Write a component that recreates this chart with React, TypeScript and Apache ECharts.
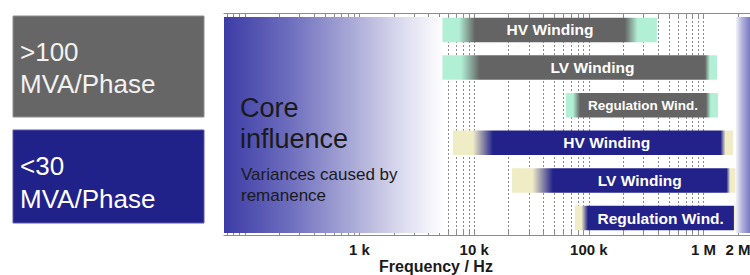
import React, { useEffect, useRef } from 'react';
import * as echarts from 'echarts';

// ---------- data ----------
const X_MIN = 65.9;
const X_MAX = 2540000;

const WINDINGS = ['HV Winding', 'LV Winding', 'Regulation Wind.', 'HV Winding', 'LV Winding', 'Regulation Wind.'];
const CLASS_OF_BAR = [0, 0, 0, 1, 1, 1];
const CLASS_LINE1 = ['>100', '<30'];
const CLASS_LINE2 = ['MVA/Phase', 'MVA/Phase'];
const BAND_START = [5290, 5290, 63100, 6530, 21400, 75600];
const SOLID_START = [10200, 11200, 83600, 14600, 48600, 98200];
const SOLID_END = [206000, 1029000, 1049000, 1404000, 1584000, 1820000];
const BAND_END = [392000, 1309000, 1335000, 1804000, 1897000, 1900000];

const REGION_START = [65.9, 1916000];
const REGION_END = [5500, 2540000];

const LABEL_FREQS = [1000, 10000, 100000, 1000000, 2000000];
const TICK_FREQS = [
  70, 80, 90,
  100, 200, 300, 400, 500, 600, 700, 800, 900,
  1000, 2000, 3000, 4000, 5000, 6000, 7000, 8000, 9000,
  10000, 20000, 30000, 40000, 50000, 60000, 70000, 80000, 90000,
  100000, 200000, 300000, 400000, 500000, 600000, 700000, 800000, 900000,
  1000000, 2000000,
];

// ---------- styles ----------
const FONT = '"Liberation Sans", Arial, Helvetica, sans-serif';
const CLASS_STYLE = [
  { solid: '#646464', edge: '#b2f0d6', box: '#666666', boxStroke: '#8e8e8e', text: '#f2f2f2' },
  { solid: '#22228a', edge: '#efecc6', box: '#21218a', boxStroke: '#5a5aa8', text: '#ffffff' },
];
const LABEL_SIZE = [15.5, 15.5, 13.5, 15.5, 15.5, 15.5];
const BAR_HALF = 0.326;
const HOLD_IN = 0.5;
const HOLD_OUT = 0.6;

const REGION_FILLS = [
  [
    { offset: 0, color: '#3c3ca6' },
    { offset: 0.3, color: '#6e6ebe' },
    { offset: 0.6, color: '#aeaed9' },
    { offset: 0.82, color: '#dedef0' },
    { offset: 1, color: '#ffffff' },
  ],
  [
    { offset: 0, color: '#f2f2fa' },
    { offset: 0.45, color: '#b0b0dc' },
    { offset: 1, color: '#7a7ac4' },
  ],
];

function fmtFreq(v: number): string {
  if (v >= 1e6) return `${Math.round(v / 1e6)} M`;
  if (v >= 1e3) return `${Math.round(v / 1e3)} k`;
  return `${v}`;
}

export default function App() {
  const ref = useRef<HTMLDivElement>(null);

  useEffect(() => {
    if (!ref.current) return;
    const chart = echarts.init(ref.current, undefined, { renderer: 'svg' });

    const barData = WINDINGS.map((_, i) => [i, BAND_START[i], SOLID_START[i], SOLID_END[i], BAND_END[i], CLASS_OF_BAR[i]]);
    const regionData = REGION_START.map((s, i) => [s, REGION_END[i], 0]);

    const graphics: any[] = [];
    const boxes = [
      { y: 16, h: 101, l1: 52, l2: 84.3 },
      { y: 130, h: 93, l1: 166, l2: 199.3 },
    ];
    boxes.forEach((b, i) => {
      const st = CLASS_STYLE[i];
      graphics.push({
        type: 'rect',
        shape: { x: 13, y: b.y, width: 191, height: b.h },
        style: { fill: st.box, stroke: st.boxStroke, lineWidth: 1 },
      });
      graphics.push({
        type: 'text', x: 20, y: b.l1,
        style: { text: CLASS_LINE1[i], fill: st.text, fontSize: 26, fontFamily: FONT, verticalAlign: 'middle' },
      });
      graphics.push({
        type: 'text', x: 20, y: b.l2,
        style: { text: CLASS_LINE2[i], fill: st.text, fontSize: 26, fontFamily: FONT, verticalAlign: 'middle' },
      });
    });
    graphics.push(
      { type: 'text', x: 240, y: 107.6, z: 10, style: { text: 'Core', fill: '#1a1a1a', fontSize: 27, fontFamily: FONT, verticalAlign: 'middle' } },
      { type: 'text', x: 240, y: 138.6, z: 10, style: { text: 'influence', fill: '#1a1a1a', fontSize: 27, fontFamily: FONT, verticalAlign: 'middle' } },
      { type: 'text', x: 241, y: 174.1, z: 10, style: { text: 'Variances caused by', fill: '#1a1a1a', fontSize: 17, fontFamily: FONT, verticalAlign: 'middle' } },
      { type: 'text', x: 241, y: 195.8, z: 10, style: { text: 'remanence', fill: '#1a1a1a', fontSize: 17, fontFamily: FONT, verticalAlign: 'middle' } },
    );

    const axisCommon = {
      type: 'log',
      logBase: 10,
      min: X_MIN,
      max: X_MAX,
      axisLine: { show: true, onZero: false, lineStyle: { color: '#8c8c8c', width: 1 } },
      axisTick: { show: true, inside: true, length: 4, customValues: TICK_FREQS, lineStyle: { color: '#8c8c8c' } },
      minorTick: { show: false },
    };

    chart.setOption({
      animation: false,
      backgroundColor: '#ffffff',
      grid: { left: 224, right: 0, top: 13, bottom: 40, containLabel: false, outerBoundsMode: 'none' },
      xAxis: [
        {
          ...axisCommon,
          position: 'bottom',
          axisLabel: {
            customValues: LABEL_FREQS,
            formatter: (v: number) => fmtFreq(v),
            color: '#1a1a1a',
            fontWeight: 'bold',
            fontSize: 15,
            lineHeight: 14,
            fontFamily: FONT,
            margin: 7,
          },
          splitLine: { show: true, lineStyle: { type: [2, 2], color: '#8a8a8a', width: 1 } },
          name: 'Frequency / Hz',
          nameLocation: 'middle',
          nameGap: 23,
          nameMoveOverlap: false,
          nameTextStyle: { color: '#1a1a1a', fontWeight: 'bold', fontSize: 16, lineHeight: 16, fontFamily: FONT, padding: [0, 102, 0, 0] },
        },
        {
          ...axisCommon,
          position: 'top',
          axisLabel: { show: false },
          splitLine: { show: false },
        },
      ],
      yAxis: { type: 'value', min: -0.45, max: 5.45, inverse: true, show: false },
      graphic: { elements: graphics },
      series: [
        {
          type: 'custom',
          z: 1,
          silent: true,
          encode: { x: [0, 1], y: 2 },
          data: regionData,
          renderItem: (params: any, api: any) => {
            const cs = params.coordSys;
            const xa = api.coord([api.value(0), 0])[0];
            const xb = api.coord([api.value(1), 0])[0];
            return {
              type: 'rect',
              shape: { x: xa, y: cs.y + 4, width: xb - xa, height: cs.height - 6 },
              style: { fill: new echarts.graphic.LinearGradient(0, 0, 1, 0, REGION_FILLS[params.dataIndex]) },
            };
          },
        },
        {
          type: 'custom',
          z: 3,
          silent: true,
          encode: { x: [1, 2, 3, 4], y: 0 },
          data: barData,
          renderItem: (params: any, api: any) => {
            const idx = params.dataIndex;
            const row = api.value(0);
            const cls = api.value(5);
            const st = CLASS_STYLE[cls];
            const x0 = api.coord([api.value(1), row])[0];
            const x1 = api.coord([api.value(2), row])[0];
            const x2 = api.coord([api.value(3), row])[0];
            const x3 = api.coord([api.value(4), row])[0];
            const yA = api.coord([api.value(1), row - BAR_HALF])[1];
            const yB = api.coord([api.value(1), row + BAR_HALF])[1];
            const yTop = Math.min(yA, yB);
            const h = Math.abs(yB - yA);
            const w = x3 - x0;
            const f1 = (x1 - x0) / w;
            const f2 = (x2 - x0) / w;
            const fill = new echarts.graphic.LinearGradient(0, 0, 1, 0, [
              { offset: 0, color: st.edge },
              { offset: f1 * HOLD_IN, color: st.edge },
              { offset: f1, color: st.solid },
              { offset: f2, color: st.solid },
              { offset: f2 + (1 - f2) * (1 - HOLD_OUT), color: st.edge },
              { offset: 1, color: st.edge },
            ]);
            return {
              type: 'group',
              children: [
                { type: 'rect', shape: { x: x0, y: yTop, width: w, height: h }, style: { fill } },
                {
                  type: 'text',
                  x: (x1 + x2) / 2,
                  y: yTop + h / 2,
                  style: {
                    text: WINDINGS[idx],
                    fill: '#ffffff',
                    fontSize: LABEL_SIZE[idx],
                    fontWeight: 'bold',
                    fontFamily: FONT,
                    align: 'center',
                    verticalAlign: 'middle',
                  },
                },
              ],
            };
          },
        },
      ],
    });

    return () => chart.dispose();
  }, []);

  return <div ref={ref} style={{ position: 'absolute', left: 0, top: 0, width: 750, height: 275 }} />;
}
